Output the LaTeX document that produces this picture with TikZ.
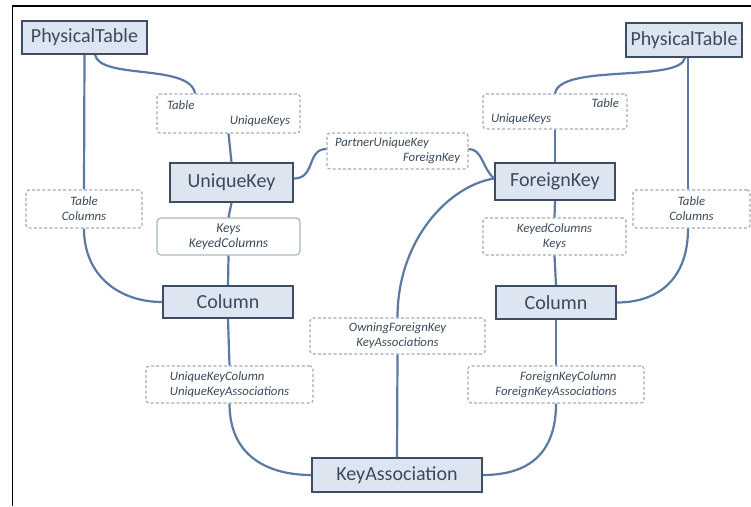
\documentclass[tikz,border=0pt]{standalone}
\usepackage{fontspec}
\setmainfont{Carlito}
\usetikzlibrary{calc}
\definecolor{boxfill}{HTML}{DCE5F0}
\definecolor{boxline}{HTML}{3E4D63}
\definecolor{txt}{HTML}{3B4A5C}
\definecolor{conn}{HTML}{5B7AA3}
\definecolor{dash}{HTML}{A3ADBB}
\definecolor{soft}{HTML}{A9B6C6}
\tikzset{
  entity/.style={draw=boxline, fill=boxfill, line width=1.6pt, text=txt,
    font=\fontsize{20}{22}\selectfont, inner sep=0pt},
  rolebox/.style={draw=dash, line width=1.2pt, dash pattern=on 3pt off 2.2pt,
    rounded corners=3pt, text=txt, font=\fontsize{12.8}{15}\selectfont\itshape,
    inner sep=0pt},
  softbox/.style={draw=soft, line width=1.2pt, rounded corners=4pt, text=txt,
    font=\fontsize{13.5}{15}\selectfont\itshape, inner sep=0pt},
  link/.style={draw=conn, line width=2.2pt},
}
\begin{document}
\begin{tikzpicture}[x=1pt,y=-1pt]
\useasboundingbox (0,0) rectangle (751,506);
\fill[white] (0,0) rectangle (751,506);
% frame
\coordinate (fb) at (12.5,506);
\coordinate (fc) at (12.5,6);
\coordinate (fr) at (751,6);
\draw[black, line width=1.3pt] (fb) -- (fc) -- (fr);

% entities
\node[entity, minimum width=125pt, minimum height=33pt] (PT1) at (84.5,37.5) {PhysicalTable};
\node[entity, minimum width=116pt, minimum height=34pt] (PT2) at (684,40) {PhysicalTable};
\node[entity, minimum width=123pt, minimum height=39pt] (UK) at (231.5,182.5) {UniqueKey};
\node[entity, minimum width=120pt, minimum height=37pt] (FK) at (555,181.5) {ForeignKey};
\node[entity, minimum width=130pt, minimum height=32pt] (C1) at (228,302) {Column};
\node[entity, minimum width=120pt, minimum height=33pt] (C2) at (556,302.5) {Column};
\node[entity, minimum width=170pt, minimum height=34pt] (KA) at (397,475) {KeyAssociation};

% role labels
\node[rolebox, minimum width=143pt, minimum height=39pt, text width=123pt] (L1) at (228.5,113.5)
  {Table\\\hspace*{\fill}UniqueKeys};
\node[rolebox, minimum width=116pt, minimum height=38pt, align=center] (L2) at (84,209)
  {Table\\Columns};
\node[softbox, minimum width=143pt, minimum height=37pt, align=center] (L3) at (228.5,236.5)
  {Keys\\KeyedColumns};
\node[rolebox, minimum width=141pt, minimum height=36pt, text width=125pt] (L4) at (397.5,151)
  {PartnerUniqueKey\\\hspace*{\fill}ForeignKey};
\node[rolebox, minimum width=144pt, minimum height=35pt, text width=128pt] (L5) at (555,111.5)
  {\hspace*{\fill}Table\\UniqueKeys};
\node[rolebox, minimum width=117pt, minimum height=38pt, align=center] (L6) at (691.5,209)
  {Table\\Columns};
\node[rolebox, minimum width=143pt, minimum height=37pt, align=center] (L7) at (554.5,236.5)
  {KeyedColumns\\Keys};
\node[rolebox, minimum width=175pt, minimum height=36pt, align=center] (L8) at (397.5,336)
  {OwningForeignKey\\KeyAssociations};
\node[rolebox, minimum width=167pt, minimum height=37pt, align=left] (L9) at (229.5,384.5)
  {UniqueKeyColumn\\UniqueKeyAssociations};
\node[rolebox, minimum width=176pt, minimum height=37pt, align=right] (L10) at (556,384.5)
  {ForeignKeyColumn\\ForeignKeyAssociations};

% connectors: left side
\draw[link] (PT1.south) -- (L2.north);
\draw[link] ($(PT1.south)+(10.5,0)$) .. controls +(5,25) and +(-5,-30) .. ($(L1.north)+(-33.5,0)$);
\draw[link] (L2.south) .. controls +(0,48) and +(-42,0) .. (C1.west);
\draw[link] (L1.south) -- (UK.north);
\draw[link] (UK.south) -- (L3.north);
\draw[link] (L3.south) -- (C1.north);
\draw[link] (C1.south) -- (L9.north);
\draw[link] (L9.south) .. controls +(0,55) and +(-40,0) .. (KA.west);

% middle
\draw[link] ($(UK.east)+(0,-4)$) .. controls +(22,0) and +(-20,0) .. ($(L4.west)+(0,-2)$);
\draw[link] ($(L4.east)+(0,-2)$) .. controls +(14,0) and +(-12,-10) .. ($(FK.west)+(0,-3)$);
\draw[link] ($(FK.west)+(0,-3)$) .. controls +(-45,7) and +(0,-78) .. (L8.north);
\draw[link] (L8.south) -- (KA.north);

% right side
\draw[link] ($(PT2.south)+(1,0)$) .. controls +(-5,25) and +(5,-30) .. (L5.north);
\draw[link] ($(PT2.south)+(4,0)$) -- ($(L6.north)+(-3.5,0)$);
\draw[link] ($(L6.south)+(-3.5,0)$) .. controls +(0,50) and +(42,0) .. (C2.east);
\draw[link] (L5.south) -- (FK.north);
\draw[link] (FK.south) -- (L7.north);
\draw[link] (L7.south) -- (C2.north);
\draw[link] (C2.south) -- (L10.north);
\draw[link] (L10.south) .. controls +(0,55) and +(40,0) .. (KA.east);
\end{tikzpicture}
\end{document}
